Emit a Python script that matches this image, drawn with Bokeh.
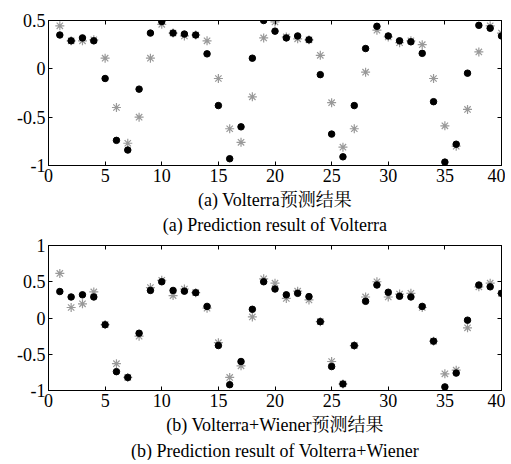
from bokeh.plotting import figure
from bokeh.layouts import column
from bokeh.models import Range1d, LinearAxis, Title, FixedTicker, CustomLabelingPolicy
from bokeh.embed import file_html
from bokeh.resources import INLINE

x = list(range(1, 41))

# (a) Volterra
actual_a = [0.35, 0.29, 0.32, 0.29, -0.10, -0.74, -0.84, -0.21, 0.37, 0.49,
            0.37, 0.36, 0.35, 0.155, -0.38, -0.93, -0.60, 0.11, 0.50, 0.39,
            0.32, 0.34, 0.30, -0.06, -0.675, -0.91, -0.38, 0.21, 0.44, 0.34,
            0.29, 0.28, 0.16, -0.34, -0.965, -0.78, -0.045, 0.45, 0.42, 0.34]
pred_a = [0.445, 0.29, 0.29, 0.30, 0.11, -0.40, -0.77, -0.50, 0.11, 0.46,
          0.37, 0.34, 0.35, 0.29, -0.10, -0.62, -0.76, -0.29, 0.32, 0.485,
          0.33, 0.31, 0.30, 0.14, -0.35, -0.81, -0.62, -0.035, 0.40, 0.33,
          0.27, 0.29, 0.25, -0.10, -0.59, -0.80, -0.42, 0.175, 0.445, 0.37]

# (b) Volterra+Wiener
actual_b = [0.365, 0.29, 0.32, 0.29, -0.093, -0.74, -0.82, -0.21, 0.38, 0.50,
            0.38, 0.37, 0.35, 0.16, -0.38, -0.92, -0.60, 0.12, 0.50, 0.40,
            0.32, 0.34, 0.295, -0.05, -0.67, -0.91, -0.38, 0.23, 0.455, 0.355,
            0.30, 0.29, 0.16, -0.32, -0.95, -0.76, -0.03, 0.455, 0.43, 0.34]
pred_b = [0.615, 0.145, 0.195, 0.36, -0.09, -0.63, -0.82, -0.25, 0.42, 0.52,
          0.31, 0.40, 0.35, 0.135, -0.34, -0.82, -0.66, 0.015, 0.54, 0.48,
          0.27, 0.37, 0.25, -0.05, -0.60, -0.91, -0.38, 0.29, 0.50, 0.29,
          0.33, 0.34, 0.145, -0.32, -0.77, -0.72, -0.135, 0.43, 0.48, 0.34]

x_ticks = [0, 5, 10, 15, 20, 25, 30, 35, 40]
y_ticks_a = [-1, -0.5, 0, 0.5]
y_labels_a = ["-1", "-0.5", "0", "0.5"]
y_ticks_b = [-1, -0.5, 0, 0.5, 1]
y_labels_b = ["-1", "-0.5", "0", "0.5", "1"]

cap_a = ["(a) Volterra预测结果", "(a) Prediction result of Volterra"]
cap_b = ["(b) Volterra+Wiener预测结果", "(b) Prediction result of Volterra+Wiener"]

TICK_FONT = "Liberation Serif"
CAP_FONT = "Liberation Serif, Noto Serif CJK SC, Noto Sans CJK SC, serif"


def make(ymin, ymax, yt, yl, actual, pred, caps, top_border, bottom_border,
         standoffs):
    p = figure(frame_width=453, frame_height=145, output_backend="svg",
               toolbar_location=None, x_range=Range1d(0, 40),
               y_range=Range1d(ymin, ymax),
               min_border_left=48, min_border_right=4,
               min_border_top=top_border, min_border_bottom=bottom_border)
    p.xgrid.visible = False
    p.ygrid.visible = False
    p.outline_line_color = "black"
    p.outline_line_width = 1
    p.background_fill_color = "white"
    p.border_fill_color = "white"

    for ax in (p.xaxis[0], p.yaxis[0]):
        ax.major_tick_in = 4
        ax.major_tick_out = 0
        ax.minor_tick_in = 0
        ax.minor_tick_out = 0
        ax.axis_line_color = "black"
        ax.major_label_text_font = TICK_FONT
        ax.major_label_text_font_size = "18px"
        ax.major_label_text_color = "black"
        ax.major_label_standoff = 3
    p.xaxis[0].ticker = FixedTicker(ticks=x_ticks)
    p.yaxis[0].ticker = FixedTicker(ticks=yt)
    p.yaxis[0].major_label_overrides = dict(zip(yt, yl))

    top = LinearAxis(ticker=FixedTicker(ticks=x_ticks))
    right = LinearAxis(ticker=FixedTicker(ticks=yt))
    for ax in (top, right):
        ax.major_tick_in = 4
        ax.major_tick_out = 0
        ax.minor_tick_in = 0
        ax.minor_tick_out = 0
        ax.major_label_policy = CustomLabelingPolicy(code="return []")
        ax.major_label_text_font_size = "0px"
        ax.major_label_standoff = 0
        ax.axis_line_color = "black"
    p.add_layout(top, "above")
    p.add_layout(right, "right")

    p.scatter(x, pred, marker="asterisk", size=9, line_color="#999999",
              line_width=1.2)
    p.scatter(x, actual, marker="circle", size=6.5, fill_color="black",
              line_color="black")

    for c, so in zip(caps, standoffs):
        t = Title(text=c, align="center", text_font=CAP_FONT,
                  text_font_size="18px", text_font_style="normal",
                  text_color="black", standoff=so, offset=0)
        p.add_layout(t, "below")
    return p


p1 = make(-1, 0.5, y_ticks_a, y_labels_a, actual_a, pred_a, cap_a, 20, 72,
          (6, 0))
p2 = make(-1, 1, y_ticks_b, y_labels_b, actual_b, pred_b, cap_b, 8, 68,
          (7, 0))

layout = column(p1, p2, spacing=0)
open("out.html", "w").write(file_html(layout, INLINE))
